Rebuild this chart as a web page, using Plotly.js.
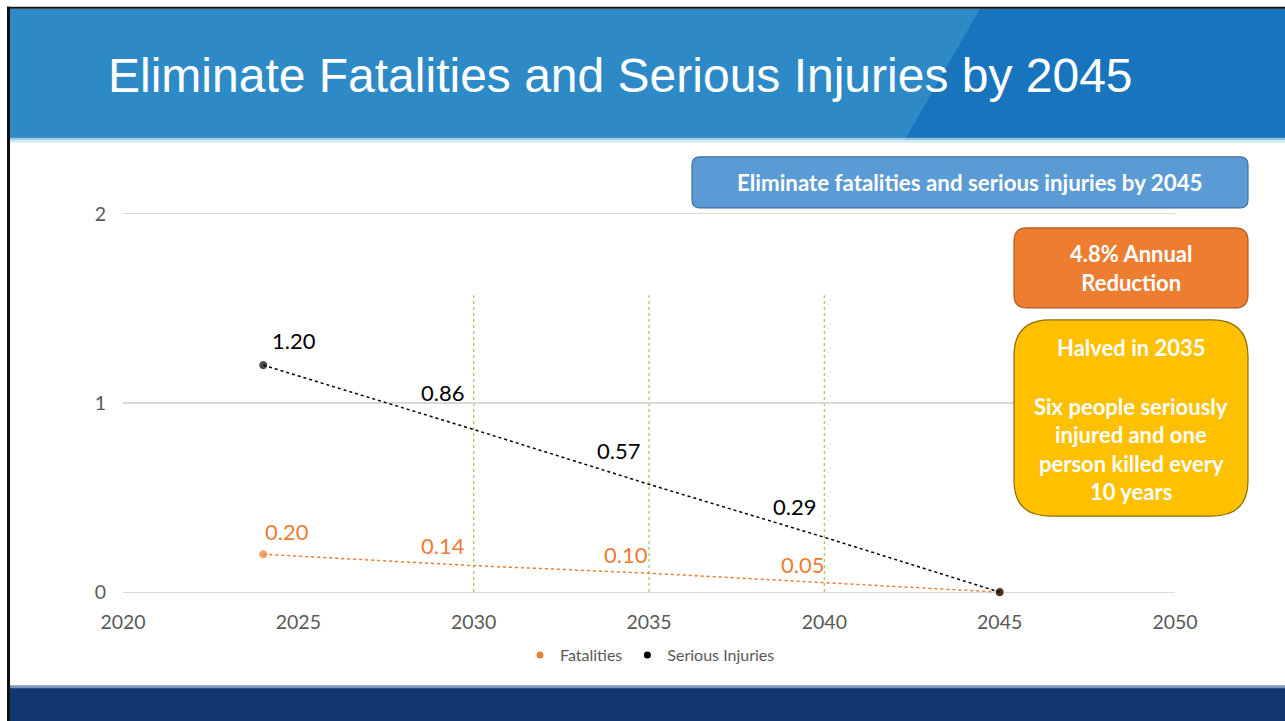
<!DOCTYPE html>
<html>
<head>
<meta charset="utf-8">
<script src="https://cdn.plot.ly/plotly-3.0.1.min.js"></script>
<style>
  html, body { margin: 0; padding: 0; background: #ffffff; }
  #chart { width: 1285px; height: 721px; }
</style>
</head>
<body>
<div id="chart"></div>
<script>
// ---- Data ----
const years = [2024, 2030, 2035, 2040, 2045];
const fatalities = [0.20, 0.14, 0.10, 0.05, 0.00];
const seriousInjuries = [1.20, 0.86, 0.57, 0.29, 0.00];
const labelFatalities = ["0.20", "0.14", "0.10", "0.05", ""];
const labelInjuries = ["1.20", "0.86", "0.57", "0.29", ""];
const milestoneYears = [2030, 2035, 2040];
const xTicks = [2020, 2025, 2030, 2035, 2040, 2045, 2050];
const yTicks = [0, 1, 2];
const seriesNames = ["Fatalities", "Serious Injuries"];
const pageTitle = "Eliminate Fatalities and Serious Injuries by 2045";
const boxBlueText = "Eliminate fatalities and serious injuries by 2045";
const boxOrangeText = "4.8% Annual<br>Reduction";
const boxYellowLines = ["Halved in 2035", "", "Six people seriously", "injured and one", "person killed every", "10 years"];

// ---- Geometry helpers (pixel -> paper) ----
const W = 1285, H = 721;
const L = 123, R = 1175, T = 214, B = 592;   // pixel positions of x 2020..2050 and y 2..0
const PAD = 0.01;                              // small y padding so edge gridlines are drawn
const unitPx = (B - T) / 2;
const Tm = T - PAD * unitPx, Bm = B + PAD * unitPx;   // real plot-area edges
const px = x => (x - L) / (R - L);
const py = y => (Bm - y) / (Bm - Tm);

function roundRect(x0, y0, x1, y1, r) {
  const rx = r / (R - L), ry = r / (Bm - Tm);
  const X0 = px(x0), X1 = px(x1), Y0 = py(y0), Y1 = py(y1);
  return `M${X0 + rx},${Y0} L${X1 - rx},${Y0} Q${X1},${Y0} ${X1},${Y0 - ry} ` +
         `L${X1},${Y1 + ry} Q${X1},${Y1} ${X1 - rx},${Y1} ` +
         `L${X0 + rx},${Y1} Q${X0},${Y1} ${X0},${Y1 + ry} ` +
         `L${X0},${Y0 - ry} Q${X0},${Y0} ${X0 + rx},${Y0} Z`;
}
function rectPath(pts) {
  return 'M' + pts.map(p => `${px(p[0])},${py(p[1])}`).join(' L') + ' Z';
}

const ORANGE = '#ED7D31';
const BLACK = '#000000';
const GREY = '#595959';
const BODY_FONT = 'Lato, "Open Sans", sans-serif';

const endSizes = years.map((_, i) => (i === 0 || i === years.length - 1) ? 9 : 0);
const traces = [
  {
    x: years, y: fatalities, name: seriesNames[0], type: 'scatter', mode: 'lines+markers',
    line: { color: ORANGE, width: 1.5, dash: 'dot' },
    marker: { color: ORANGE, size: endSizes },
    showlegend: false, cliponaxis: false
  },
  {
    x: years, y: seriousInjuries, name: seriesNames[1], type: 'scatter', mode: 'lines+markers',
    line: { color: BLACK, width: 1.5, dash: 'dot' },
    marker: { color: BLACK, size: endSizes },
    showlegend: false, cliponaxis: false
  },
  { x: [null], y: [null], name: seriesNames[0], type: 'scatter', mode: 'markers', marker: { color: ORANGE, size: 7 } },
  { x: [null], y: [null], name: seriesNames[1], type: 'scatter', mode: 'markers', marker: { color: BLACK, size: 7 } }
];

// ---- Annotations ----
const annotations = [];
const injShift = [[31, 25], [-31, 37], [-31, 34], [-30, 31]];
years.forEach((yr, i) => {
  if (!labelInjuries[i]) return;
  annotations.push({ x: yr, y: seriousInjuries[i], xref: 'x', yref: 'y', text: labelInjuries[i], showarrow: false,
    xshift: injShift[i][0], yshift: injShift[i][1], font: { family: BODY_FONT, size: 22, color: BLACK } });
});
const fatShift = [[24, 23], [-31, 20], [-23, 19], [-22, 18]];
years.forEach((yr, i) => {
  if (!labelFatalities[i]) return;
  annotations.push({ x: yr, y: fatalities[i], xref: 'x', yref: 'y', text: labelFatalities[i], showarrow: false,
    xshift: fatShift[i][0], yshift: fatShift[i][1], font: { family: BODY_FONT, size: 22, color: ORANGE } });
});
annotations.push({ x: px(106), y: py(76), xref: 'paper', yref: 'paper', xanchor: 'left', yanchor: 'middle',
  text: pageTitle, showarrow: false, font: { family: '"Liberation Sans", Arial, sans-serif', size: 48, color: '#ffffff' } });
annotations.push({ x: px(970), y: py(183), xref: 'paper', yref: 'paper', xanchor: 'center', yanchor: 'middle',
  text: '<b>' + boxBlueText + '</b>', showarrow: false, font: { family: BODY_FONT, size: 22.3, color: '#ffffff' } });
annotations.push({ x: px(1131), y: py(268), xref: 'paper', yref: 'paper', xanchor: 'center', yanchor: 'middle',
  text: '<b>' + boxOrangeText + '</b>', showarrow: false, font: { family: BODY_FONT, size: 22, color: '#ffffff' } });
const yellowY = [348, 377, 406, 434, 463, 491];
boxYellowLines.forEach((t, i) => {
  if (!t) return;
  annotations.push({ x: px(1131), y: py(yellowY[i]), xref: 'paper', yref: 'paper', xanchor: 'center', yanchor: 'middle',
    text: '<b>' + t + '</b>', showarrow: false, font: { family: BODY_FONT, size: 22, color: '#ffffff' } });
});

// ---- Shapes ----
const shapes = [];
shapes.push({ type: 'path', xref: 'paper', yref: 'paper', layer: 'below', path: rectPath([[10, 9], [1285, 9], [1285, 140], [10, 140]]),
  fillcolor: '#2D8AC6', line: { width: 0 } });
shapes.push({ type: 'path', xref: 'paper', yref: 'paper', layer: 'below', path: rectPath([[980, 9], [1285, 9], [1285, 140], [905, 140]]),
  fillcolor: '#1874BD', line: { width: 0 } });
shapes.push({ type: 'path', xref: 'paper', yref: 'paper', layer: 'below', path: rectPath([[10, 138], [1285, 138], [1285, 143], [10, 143]]),
  fillcolor: '#BFE3F0', line: { width: 0 }, opacity: 0.7 });
shapes.push({ type: 'path', xref: 'paper', yref: 'paper', layer: 'below', path: rectPath([[10, 687], [1285, 687], [1285, 721], [10, 721]]),
  fillcolor: '#12366F', line: { width: 0 } });
shapes.push({ type: 'path', xref: 'paper', yref: 'paper', layer: 'below', path: rectPath([[10, 685], [1285, 685], [1285, 688], [10, 688]]),
  fillcolor: '#7C97BC', line: { width: 0 } });
shapes.push({ type: 'path', xref: 'paper', yref: 'paper', layer: 'above', path: rectPath([[7, 7], [1285, 7], [1285, 9], [7, 9]]),
  fillcolor: '#111111', line: { width: 0 } });
shapes.push({ type: 'path', xref: 'paper', yref: 'paper', layer: 'above', path: rectPath([[7, 7], [10, 7], [10, 721], [7, 721]]),
  fillcolor: '#111111', line: { width: 0 } });
milestoneYears.forEach(yr => {
  shapes.push({ type: 'line', xref: 'x', yref: 'y', x0: yr, x1: yr, y0: 0, y1: 1.57, layer: 'below',
    line: { color: '#92D050', width: 1.2, dash: '3px,3px' } });
});
shapes.push({ type: 'path', xref: 'paper', yref: 'paper', layer: 'above', path: roundRect(692, 157, 1248, 208, 8),
  fillcolor: '#5B9BD5', line: { color: '#41719C', width: 1.2 } });
shapes.push({ type: 'path', xref: 'paper', yref: 'paper', layer: 'above', path: roundRect(1014, 228, 1248, 308, 13),
  fillcolor: ORANGE, line: { color: '#AE5A21', width: 1.2 } });
shapes.push({ type: 'path', xref: 'paper', yref: 'paper', layer: 'above', path: roundRect(1014, 320, 1248, 516, 36),
  fillcolor: '#FFC000', line: { color: '#8F6D00', width: 1.2 } });

const layout = {
  width: W, height: H,
  margin: { l: L, r: W - R, t: Tm, b: H - Bm, pad: 0 },
  paper_bgcolor: '#ffffff', plot_bgcolor: 'rgba(0,0,0,0)',
  font: { family: BODY_FONT, color: GREY },
  showlegend: true,
  legend: { orientation: 'h', x: px(650), xanchor: 'center', y: py(655), yanchor: 'middle',
    font: { family: BODY_FONT, size: 16, color: GREY }, bgcolor: 'rgba(0,0,0,0)', itemwidth: 30, tracegroupgap: 0 },
  xaxis: { range: [2020, 2050], tickvals: xTicks, ticktext: xTicks.map(String), showgrid: false, zeroline: false,
    showline: false, ticks: '', ticklabelstandoff: 14, tickfont: { family: BODY_FONT, size: 19.5, color: GREY }, fixedrange: true },
  yaxis: { range: [-PAD, 2 + PAD], tickvals: yTicks, ticktext: yTicks.map(String), showgrid: true, gridcolor: '#D9D9D9', gridwidth: 1.2,
    zeroline: false, showline: false, ticks: '', ticklabelstandoff: 16, tickfont: { family: BODY_FONT, size: 19.5, color: GREY }, fixedrange: true },
  shapes: shapes,
  annotations: annotations
};

Plotly.newPlot('chart', traces, layout, { displayModeBar: false, staticPlot: true });
</script>
</body>
</html>
